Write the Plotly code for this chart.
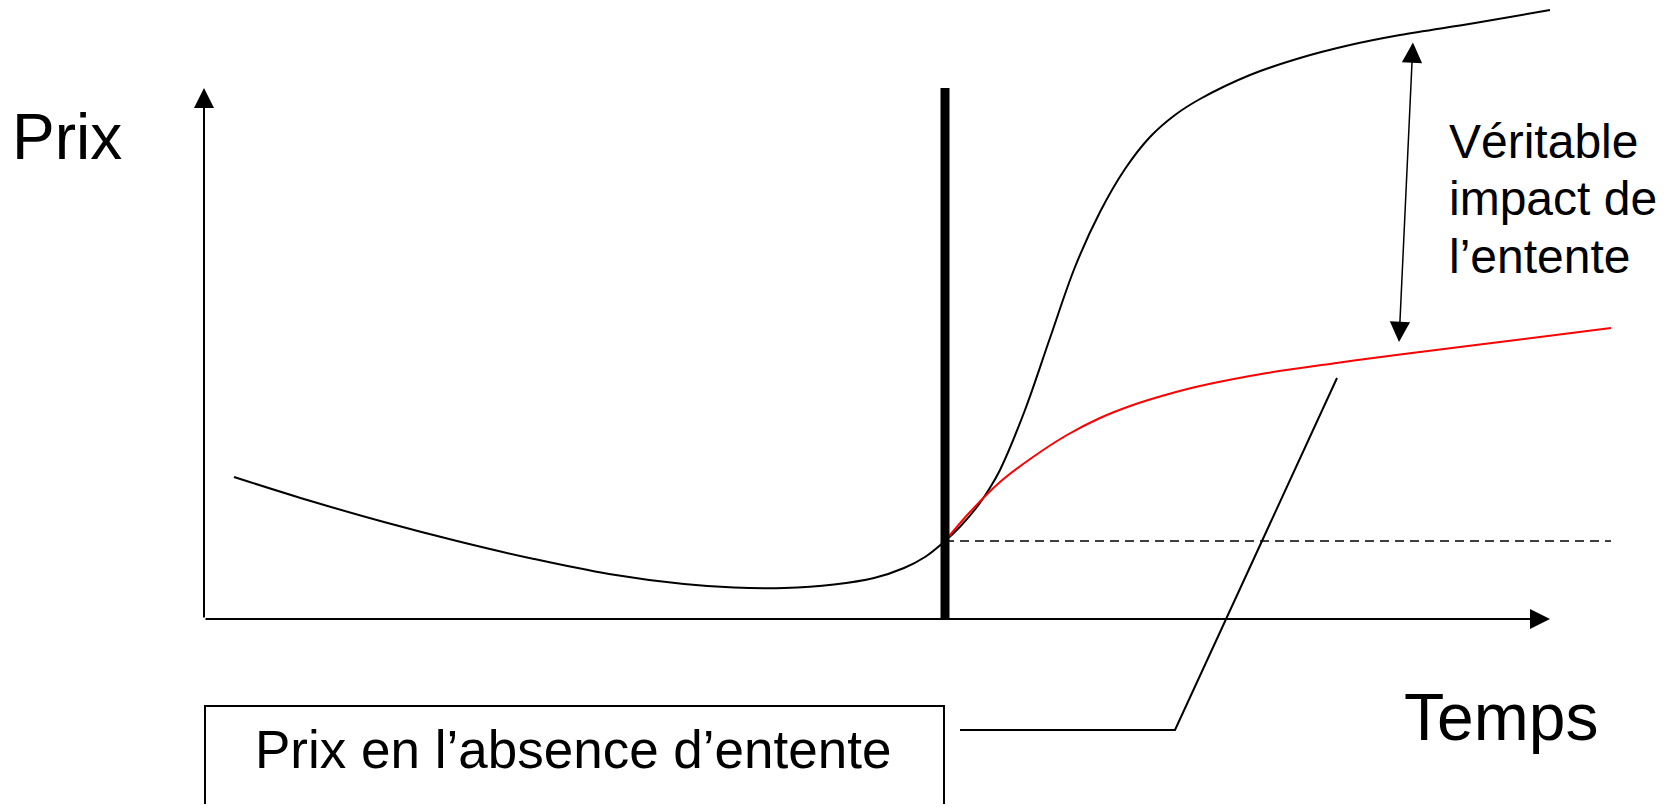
import plotly.graph_objects as go

# Sketch coordinates: time on x, price on y, origin where the two axes meet
black_t = [3.0, 10.5, 18.0, 25.5, 33.0, 40.5, 48.0, 53.0, 58.0, 63.0, 67.0, 70.0, 72.1,
           74.1, 75.6, 77.1, 78.6, 79.6, 82.1, 84.6, 87.1, 89.6, 92.1, 94.6, 97.1,
           99.6, 104.6, 109.6, 114.6, 119.6, 127.1, 134.6]
black_p = [14.2, 11.85, 9.7, 7.75, 6.0, 4.5, 3.5, 3.15, 3.1, 3.45, 4.1, 5.1, 6.2,
           7.8, 9.23, 10.95, 13.13, 14.9, 20.9, 28.1, 35.2, 40.7, 45.0, 48.2, 50.4,
           52.0, 54.4, 56.1, 57.4, 58.4, 59.6, 60.9]

red_t = [74.1, 76.6, 79.6, 82.9, 86.3, 89.6, 92.9, 96.3, 99.6, 106.3, 112.9, 119.6, 129.6, 140.7]
red_p = [7.8, 10.7, 13.7, 16.2, 18.4, 20.1, 21.4, 22.45, 23.3, 24.6, 25.55, 26.45, 27.7, 29.1]

cartel_t = 74.1      # start of the cartel (thick bar)
cartel_p = 7.8       # price level when the cartel starts
dash_end_t = 140.7
axis_t_max = 134.6
axis_p_max = 53.1

impact_t = [120.9, 119.5]
impact_p = [57.8, 27.7]

pointer_t = [113.3, 97.1, 75.6]
pointer_p = [24.1, -11.1, -11.1]

box_t = [0.1, 74.0]
box_p = [-8.7, -30.0]

FONT = "Liberation Sans, Arial, sans-serif"

fig = go.Figure()

# price with the cartel
fig.add_trace(go.Scatter(x=black_t, y=black_p, mode="lines",
                         line=dict(color="black", width=2, shape="spline", smoothing=1.0)))
# price without the cartel
fig.add_trace(go.Scatter(x=red_t, y=red_p, mode="lines",
                         line=dict(color="#ff0000", width=2, shape="spline", smoothing=1.0)))
# flat reference price
fig.add_trace(go.Scatter(x=[cartel_t, dash_end_t], y=[cartel_p, cartel_p], mode="lines",
                         line=dict(color="black", width=1.5, dash="9px,6px")))
# thick bar marking the cartel start
fig.add_trace(go.Scatter(x=[cartel_t, cartel_t], y=[0, axis_p_max], mode="lines",
                         line=dict(color="black", width=9)))
# pointer from the box to the red curve
fig.add_trace(go.Scatter(x=pointer_t, y=pointer_p, mode="lines",
                         line=dict(color="black", width=2)))

# label box (runs off the bottom of the page)
fig.add_shape(type="rect", xref="x", yref="y", x0=box_t[0], x1=box_t[1], y0=box_p[0], y1=box_p[1],
              line=dict(color="black", width=2), fillcolor="rgba(0,0,0,0)")

# axes with arrow heads
fig.add_annotation(x=0, y=axis_p_max, ax=0, ay=0, xref="x", yref="y", axref="x", ayref="y",
                   text="", showarrow=True, arrowhead=2, arrowsize=2, arrowwidth=2, arrowcolor="black")
fig.add_annotation(x=axis_t_max, y=0, ax=0, ay=0, xref="x", yref="y", axref="x", ayref="y",
                   text="", showarrow=True, arrowhead=2, arrowsize=2, arrowwidth=2, arrowcolor="black")
# double arrow: real impact of the cartel
fig.add_annotation(x=impact_t[1], y=impact_p[1], ax=impact_t[0], ay=impact_p[0],
                   xref="x", yref="y", axref="x", ayref="y", text="", showarrow=True,
                   arrowside="end+start", arrowhead=2, startarrowhead=2,
                   arrowsize=2.7, startarrowsize=2.7, arrowwidth=1.5, arrowcolor="black")

# texts
fig.add_annotation(x=-19.4, y=48.2, text="Prix", showarrow=False, xanchor="left", yanchor="middle",
                   font=dict(family=FONT, size=64, color="black"))
fig.add_annotation(x=119.8, y=-9.8, text="Temps", showarrow=False, xanchor="left", yanchor="middle",
                   font=dict(family=FONT, size=66, color="black"))
impact_lines = ["Véritable", "impact de", "l’entente"]
impact_line_p = [47.8, 42.1, 36.3]
for line, p in zip(impact_lines, impact_line_p):
    fig.add_annotation(x=124.3, y=p, text=line, showarrow=False, xanchor="left", yanchor="middle",
                       font=dict(family=FONT, size=48, color="black"))
fig.add_annotation(x=36.9, y=-13.0, text="Prix en l’absence d’entente", showarrow=False,
                   xanchor="center", yanchor="middle", font=dict(family=FONT, size=53, color="black"))

fig.update_layout(
    width=1659,
    height=796,
    margin=dict(l=0, r=0, t=0, b=0),
    showlegend=False,
    plot_bgcolor="white",
    paper_bgcolor="white",
    hovermode=False,
    xaxis=dict(range=[-19.6, 146.3], visible=False, fixedrange=True),
    yaxis=dict(range=[-18.5, 61.1], visible=False, fixedrange=True),
)

fig.write_html("out.html")
